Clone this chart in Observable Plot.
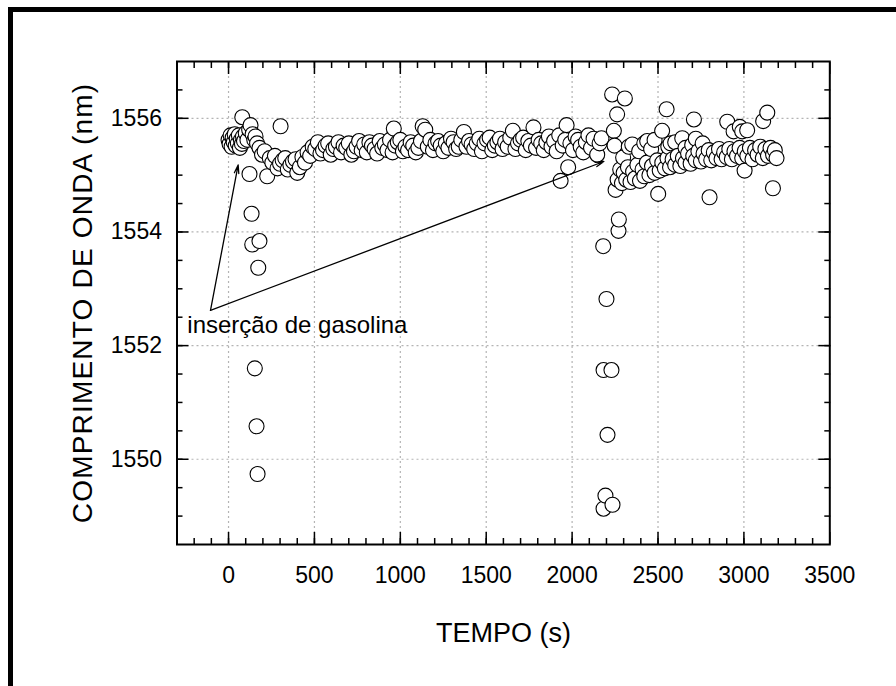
<!DOCTYPE html>
<html><head><meta charset="utf-8">
<script src="https://cdn.jsdelivr.net/npm/d3@7"></script>
<script src="https://cdn.jsdelivr.net/npm/@observablehq/plot@0.6"></script>
<style>
html,body{margin:0;padding:0;background:#fff;}
#wrap{position:relative;width:896px;height:686px;overflow:hidden;background:#fff;}
#chart{position:absolute;left:0;top:0;}
#border{position:absolute;left:8px;top:7px;width:2000px;height:2000px;border-left:5px solid #000;border-top:5px solid #000;box-sizing:border-box;pointer-events:none;}
</style></head>
<body><div id="wrap"><div id="chart"></div><div id="border"></div></div>
<script>
// ---- data ----
const tempo = [
  0,6,12,18,24,30,36,42,48,54,60,66,72,78,84,90,80,100,110,120,128,140,150,157,166,
  122,134,138,180,173,153,163,169,
  180,195,210,225,240,255,270,285,300,303,315,330,345,360,375,390,400,415,430,445,460,475,490,
  505,520,535,550,565,580,595,610,625,640,655,670,685,700,715,730,745,760,775,790,805,820,835,850,
  865,880,895,910,925,940,955,962,970,985,1000,1015,1030,1045,1060,1075,1090,1105,1120,1130,1145,
  1160,1175,1190,1205,1220,1235,1250,1265,1280,1295,1310,1325,1340,1355,1370,1385,1400,1415,1430,
  1445,1460,1475,1490,1505,1520,1535,1550,1565,1580,1595,1610,1625,1640,1655,1670,1685,1700,1715,
  1730,1745,1760,1775,1790,1805,1820,1835,1850,1865,1880,1895,1910,1925,1933,1945,1960,1968,1977,
  1990,2005,2020,2035,2050,2065,2080,2095,2110,2125,2146,2160,2171,
  2181,2183,2200,2206,2229,2194,2183,2235,2233,2243,2247,2262,2253,2272,2270,2307,
  2265,2280,2290,2297,2300,2315,2325,2330,2340,2350,2355,2365,2380,2390,2395,2410,2420,2420,2435,2437,
  2450,2460,2465,2480,2480,2495,2501,2510,2524,2525,2540,2550,2555,2560,2570,2573,2585,2600,2600,
  2615,2630,2641,2645,2660,2660,2675,2690,2699,2705,2709,2720,2720,2735,2750,2760,2765,2780,2795,
  2800,2810,2825,2840,2855,2870,2885,2900,2903,2915,2930,2940,2945,2960,2975,2976,2990,2990,3004,
  3005,3019,3020,3035,3050,3065,3080,3095,3110,3112,3125,3136,3140,3155,3169,3170,3180,3190
];
const comprimento = [
  1555.62,1555.55,1555.70,1555.50,1555.66,1555.58,1555.72,1555.52,1555.64,1555.56,1555.70,1555.48,1555.62,1555.55,1555.68,1555.60,1556.02,1555.74,1555.62,1555.80,1555.88,1555.72,1555.62,1555.68,1555.56,
  1555.02,1554.32,1553.78,1553.84,1553.37,1551.60,1550.58,1549.74,
  1555.48,1555.36,1555.42,1554.98,1555.30,1555.22,1555.34,1555.12,1555.20,1555.86,1555.26,1555.30,1555.10,1555.18,1555.24,1555.28,1555.04,1555.14,1555.32,1555.22,1555.40,1555.34,1555.50,
  1555.46,1555.58,1555.38,1555.44,1555.52,1555.56,1555.36,1555.46,1555.50,1555.58,1555.40,1555.52,1555.48,1555.56,1555.36,1555.42,1555.50,1555.60,1555.44,1555.54,1555.40,1555.58,1555.52,1555.46,
  1555.38,1555.60,1555.48,1555.54,1555.44,1555.62,1555.40,1555.82,1555.52,1555.58,1555.62,1555.42,1555.50,1555.44,1555.58,1555.52,1555.40,1555.48,1555.60,1555.86,1555.80,
  1555.50,1555.62,1555.44,1555.56,1555.60,1555.52,1555.42,1555.56,1555.48,1555.64,1555.58,1555.46,1555.50,1555.62,1555.76,1555.50,1555.60,1555.54,1555.46,
  1555.56,1555.64,1555.42,1555.56,1555.62,1555.66,1555.44,1555.52,1555.58,1555.64,1555.46,1555.58,1555.50,1555.66,1555.78,1555.46,1555.56,1555.62,1555.66,
  1555.44,1555.60,1555.52,1555.84,1555.48,1555.62,1555.56,1555.44,1555.58,1555.68,1555.50,1555.60,1555.42,1555.70,1554.90,1555.52,1555.62,1555.88,1555.14,
  1555.56,1555.44,1555.68,1555.62,1555.50,1555.40,1555.58,1555.70,1555.48,1555.64,1555.36,1555.56,1555.65,
  1553.75,1551.57,1552.82,1550.43,1551.57,1549.36,1549.13,1549.20,1556.42,1555.78,1555.52,1556.07,1554.74,1554.22,1554.02,1556.35,
  1554.92,1555.10,1554.86,1555.31,1555.04,1554.92,1555.14,1555.50,1554.88,1555.54,1555.06,1554.94,1555.18,1555.42,1554.90,1555.10,1554.98,1555.56,1555.22,1555.60,
  1555.00,1555.46,1555.16,1555.04,1555.62,1555.26,1554.67,1555.08,1555.78,1555.22,1555.12,1556.16,1555.30,1555.50,1555.14,1555.56,1555.28,1555.18,1555.58,
  1555.34,1555.16,1555.65,1555.30,1555.22,1555.48,1555.38,1555.20,1555.53,1555.34,1555.98,1555.26,1555.64,1555.42,1555.24,1555.56,1555.38,1555.28,1555.44,
  1554.61,1555.26,1555.40,1555.30,1555.46,1555.28,1555.40,1555.32,1555.94,1555.46,1555.28,1555.77,1555.42,1555.34,1555.48,1555.85,1555.30,1555.77,1555.08,
  1555.42,1555.79,1555.34,1555.48,1555.28,1555.44,1555.36,1555.50,1555.30,1555.95,1555.46,1556.10,1555.34,1555.48,1554.77,1555.36,1555.44,1555.30
];
const xDomain = [-300, 3500];
const yDomain = [1548.5, 1557];
const xTicks = [0, 500, 1000, 1500, 2000, 2500, 3000, 3500];
const yTicks = [1550, 1552, 1554, 1556];
const xGrid = [0, 500, 1000, 1500, 2000, 2500, 3000];
const setaOrigem = {x: -105, y: 1552.62};
const setaAlvoX = [56, 2185];
const setaAlvoY = [1555.18, 1555.24];
const anotacao = "inserção de gasolina";
const anotacaoPos = {x: -240, y: 1552.36};
const rotuloX = "TEMPO (s)";
const rotuloY = "COMPRIMENTO DE ONDA (nm)";

// ---- build ----
const FONT = "'Liberation Sans', Arial, Helvetica, sans-serif";
const rows = tempo.map((t, i) => ({t, w: comprimento[i]})).sort((a, b) => a.t - b.t);
const setas = setaAlvoX.map((x, i) => ({x1: setaOrigem.x, y1: setaOrigem.y, x2: x, y2: setaAlvoY[i]}));
const xMinor = d3.range(-200, 3500, 100);
const yMinor = d3.range(1549, 1557, 0.5);
const fmt = d => String(d);

const chart = Plot.plot({
  width: 896, height: 686,
  marginLeft: 176.5, marginRight: 66.7, marginTop: 61, marginBottom: 142,
  style: {fontFamily: FONT, background: "white", color: "black", overflow: "visible"},
  x: {domain: xDomain, label: null},
  y: {domain: yDomain, label: null},
  marks: [
    Plot.gridX(xGrid, {stroke: "#b4b4b4", strokeOpacity: 1, strokeWidth: 1.2, strokeDasharray: "2,3"}),
    Plot.gridY(yTicks, {stroke: "#b4b4b4", strokeOpacity: 1, strokeWidth: 1.2, strokeDasharray: "2,3"}),
    Plot.dot(rows, {x: "t", y: "w", r: 7.5, fill: "white", stroke: "black", strokeWidth: 1.1}),
    Plot.arrow(setas, {x1: "x1", y1: "y1", x2: "x2", y2: "y2", stroke: "black", strokeWidth: 1.3, headLength: 10, headAngle: 30}),
    Plot.text([anotacao], {x: anotacaoPos.x, y: anotacaoPos.y, text: d => d, textAnchor: "start", fontSize: 24, fill: "black"}),
    Plot.frame({stroke: "black", strokeWidth: 2}),
    // major ticks (inward) on all sides
    Plot.axisX(xTicks, {anchor: "bottom", tickSize: -12, tickFormat: () => "", label: null, strokeWidth: 1.5}),
    Plot.axisX(xTicks, {anchor: "top", tickSize: -12, tickFormat: () => "", label: null, strokeWidth: 1.5}),
    Plot.axisY(yTicks, {anchor: "left", tickSize: -12, tickFormat: () => "", label: null, strokeWidth: 1.5}),
    Plot.axisY(yTicks, {anchor: "right", tickSize: -12, tickFormat: () => "", label: null, strokeWidth: 1.5}),
    // minor ticks
    Plot.axisX(xMinor, {anchor: "bottom", tickSize: -6, tickFormat: () => "", label: null, strokeWidth: 1.5}),
    Plot.axisX(xMinor, {anchor: "top", tickSize: -6, tickFormat: () => "", label: null, strokeWidth: 1.5}),
    Plot.axisY(yMinor, {anchor: "left", tickSize: -6, tickFormat: () => "", label: null, strokeWidth: 1.5}),
    Plot.axisY(yMinor, {anchor: "right", tickSize: -6, tickFormat: () => "", label: null, strokeWidth: 1.5}),
    // tick labels
    Plot.axisX(xTicks, {anchor: "bottom", tickSize: 0, tickPadding: 22, tickFormat: fmt, label: null, fontSize: 23, fill: "black"}),
    Plot.axisY(yTicks, {anchor: "left", tickSize: 0, tickPadding: 15, tickFormat: fmt, label: null, fontSize: 23, fill: "black"}),
    // axis titles
    Plot.text([rotuloX], {frameAnchor: "bottom", dy: 89, text: d => d, fontSize: 27, textAnchor: "middle", lineAnchor: "middle", fill: "black"}),
    Plot.text([rotuloY], {frameAnchor: "left", dx: -94, rotate: -90, text: d => d, fontSize: 28, textAnchor: "middle", lineAnchor: "middle", fill: "black"})
  ]
});
// widen the rotated title slightly to match the reference's letter spacing
chart.querySelectorAll("text").forEach(t => {
  if (t.textContent === rotuloY) t.style.letterSpacing = "1.2px";
});
document.getElementById("chart").appendChild(chart);
</script>
</body></html>
